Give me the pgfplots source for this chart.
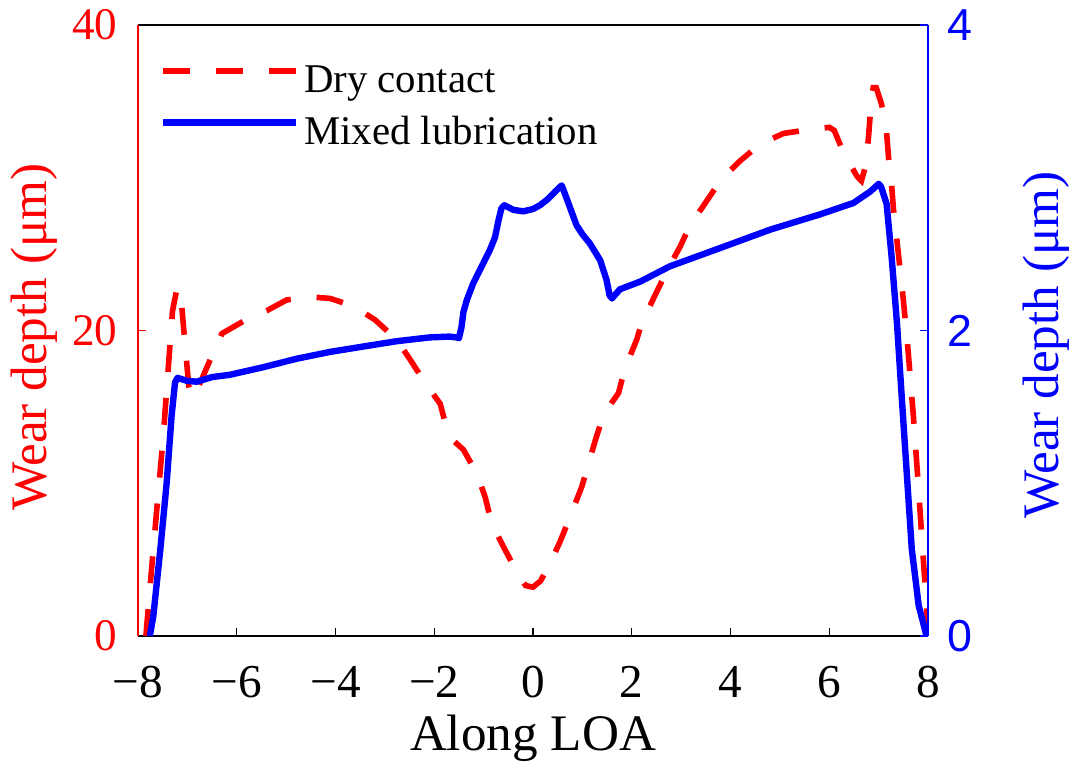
\documentclass[border=0pt]{standalone}
\usepackage{fontspec}
\setmainfont{Liberation Serif}
\newfontfamily\serifwl{Liberation Serif}
\newfontfamily\arialfont{Liberation Sans}
\usepackage{pgfplots}
\pgfplotsset{compat=1.18}
\definecolor{mred}{RGB}{255,0,0}
\definecolor{mblue}{RGB}{0,0,255}
\begin{document}
\begin{tikzpicture}
\begin{axis}[
  at={(34.5pt,33.5pt)}, anchor=south west,
  scale only axis, width=197.5pt, height=152.75pt,
  xmin=-8, xmax=8, ymin=0, ymax=40,
  axis x line*=box, axis y line*=left,
  xtick={-8,-6,-4,-2,0,2,4,6,8},
  xticklabels={−8,−6,−4,−2,0,2,4,6,8},
  ytick={0,20,40}, yticklabels={0,20,40},
  xtick pos=left, ytick pos=left,
  tick align=inside, major tick length=2pt,
  every tick/.style={line width=0.35pt},
  axis line style={line width=0.35pt},
  y axis line style={mred},
  ytick style={mred},
  xtick style={black},
  yticklabel style={text=mred, font=\fontsize{11.3}{12}\selectfont, anchor=east, inner sep=0pt, xshift=-5pt},
  xticklabel style={font=\fontsize{11.8}{12}\selectfont, anchor=base, inner sep=0pt, yshift=-15.25pt},
  xlabel={Along LOA},
  xlabel style={font=\fontsize{12.8}{14}\selectfont, at={(axis description cs:0.5,0)}, anchor=base, inner sep=0pt, yshift=-28.5pt},
  ylabel={\serifwl Wear depth (\char"03BC m)},
  ylabel style={text=mred, font=\serifwl\fontsize{12.8}{14}\selectfont, at={(axis description cs:0,0.489)}, anchor=base, inner sep=0pt, yshift=22.9pt},
  legend style={draw=none, fill=none, at={(axis description cs:0.0304,1)}, anchor=north west, xshift=-0.75pt, yshift=-10pt, inner sep=0pt, font=\fontsize{10.2}{12}\selectfont, row sep=4.45pt, column sep=1.25pt, nodes={inner sep=0pt}},
  legend cell align=left,
  legend image code/.code={\draw[#1] (0pt,2.75pt) -- (33.25pt,2.75pt);},
]
\addplot[mred, line width=1.4pt, dash pattern=on 6.75pt off 6.5pt] coordinates {
(-7.84,0) (-7.73,4.2) (-7.6,9) (-7.49,13) (-7.4,17) (-7.3,21.3) (-7.22,22.6) (-7.17,22.8)
(-7.12,21.8) (-7.05,19.2) (-6.97,16.3) (-6.92,15.6) (-6.85,15.8) (-6.71,16.8) (-6.51,18.3)
(-6.3,19.8) (-5.87,20.6) (-5.39,21.3) (-4.99,22.0) (-4.52,22.2) (-4.11,22.1) (-3.64,21.6)
(-3.2,20.7) (-2.76,19.4) (-2.49,18.1) (-2.19,16.6) (-1.88,15.2) (-1.75,13.6) (-1.65,12.9)
(-1.41,12.2) (-1.14,10.65) (-0.97,9.1) (-0.84,7.4) (-0.6,5.85) (-0.33,4.2) (-0.15,3.3)
(0.0,3.2) (0.15,3.6) (0.34,4.7) (0.55,6.2) (0.75,7.8) (0.99,9.8) (1.26,12.8) (1.42,14.4)
(1.6,15.3) (1.73,15.9) (1.86,17.5) (2.1,19.4) (2.2,20.5) (2.47,22.3) (2.71,23.9) (2.98,25.5)
(3.18,26.9) (3.48,28.3) (3.79,29.8) (4.19,31.1) (4.6,32.2) (5.07,32.9) (5.58,33.15) (6.0,33.3)
(6.1,33.1) (6.28,31.7) (6.56,30.1) (6.65,29.8) (6.72,30.6) (6.79,32.5) (6.85,35.0) (6.89,35.9)
(6.95,35.9) (7.06,34.8) (7.16,33.0) (7.2,31.3) (7.26,29.6) (7.3,27.9) (7.4,25) (7.5,22)
(7.6,18.5) (7.7,14.5) (7.8,10) (7.9,5.2) (7.97,2) (8.0,0)
};
\addlegendentry{Dry contact}
\addlegendimage{mblue, line width=1.6pt}
\addlegendentry{Mixed lubrication}
\end{axis}
\begin{axis}[
  at={(34.5pt,33.5pt)}, anchor=south west,
  scale only axis, width=197.5pt, height=152.75pt,
  xmin=-8, xmax=8, ymin=0, ymax=4,
  axis x line=none, axis y line*=right,
  ytick={0,2,4}, yticklabels={0,2,4},
  ytick pos=right,
  tick align=inside, major tick length=2pt,
  every tick/.style={line width=0.35pt},
  axis line style={line width=0.35pt},
  y axis line style={mblue},
  ytick style={mblue},
  yticklabel style={text=mblue, font=\arialfont\fontsize{11.2}{12}\selectfont, anchor=west, inner sep=0pt, xshift=4.75pt},
  ylabel={\serifwl Wear depth (\char"03BC m)},
  ylabel style={text=mblue, font=\serifwl\fontsize{12.8}{14}\selectfont, at={(axis description cs:1,0.476)}, anchor=base, inner sep=0pt, yshift=-32.5pt},
]
\addplot[mblue, line width=1.6pt, line join=round] coordinates {
(-7.76,0) (-7.69,0.13) (-7.55,0.56) (-7.42,1.0) (-7.32,1.44) (-7.25,1.66) (-7.2,1.69)
(-7.0,1.67) (-6.81,1.665) (-6.5,1.695) (-6.14,1.71) (-5.46,1.76) (-4.79,1.815) (-4.11,1.86)
(-3.44,1.895) (-2.76,1.93) (-2.09,1.955) (-1.7,1.96) (-1.55,1.955) (-1.5,1.95) (-1.45,2.02)
(-1.41,2.12) (-1.34,2.2) (-1.21,2.31) (-1.07,2.40) (-0.87,2.53) (-0.77,2.61) (-0.70,2.72)
(-0.64,2.80) (-0.58,2.82) (-0.4,2.79) (-0.2,2.78) (0.0,2.795) (0.14,2.82) (0.3,2.86)
(0.45,2.91) (0.58,2.95) (0.64,2.90) (0.72,2.83) (0.88,2.69) (1.0,2.63) (1.15,2.57)
(1.36,2.46) (1.49,2.33) (1.55,2.23) (1.6,2.21) (1.76,2.27) (2.17,2.32) (2.77,2.42)
(3.79,2.54) (4.8,2.66) (5.81,2.76) (6.49,2.835) (6.83,2.91) (7.0,2.96) (7.05,2.94)
(7.16,2.83) (7.26,2.49) (7.37,2.05) (7.47,1.55) (7.57,1.06) (7.67,0.57) (7.81,0.2) (7.97,0)
};
\end{axis}
\pgfresetboundingbox
\useasboundingbox (0,0) rectangle (269.25pt,192.5pt);
\end{tikzpicture}
\end{document}
